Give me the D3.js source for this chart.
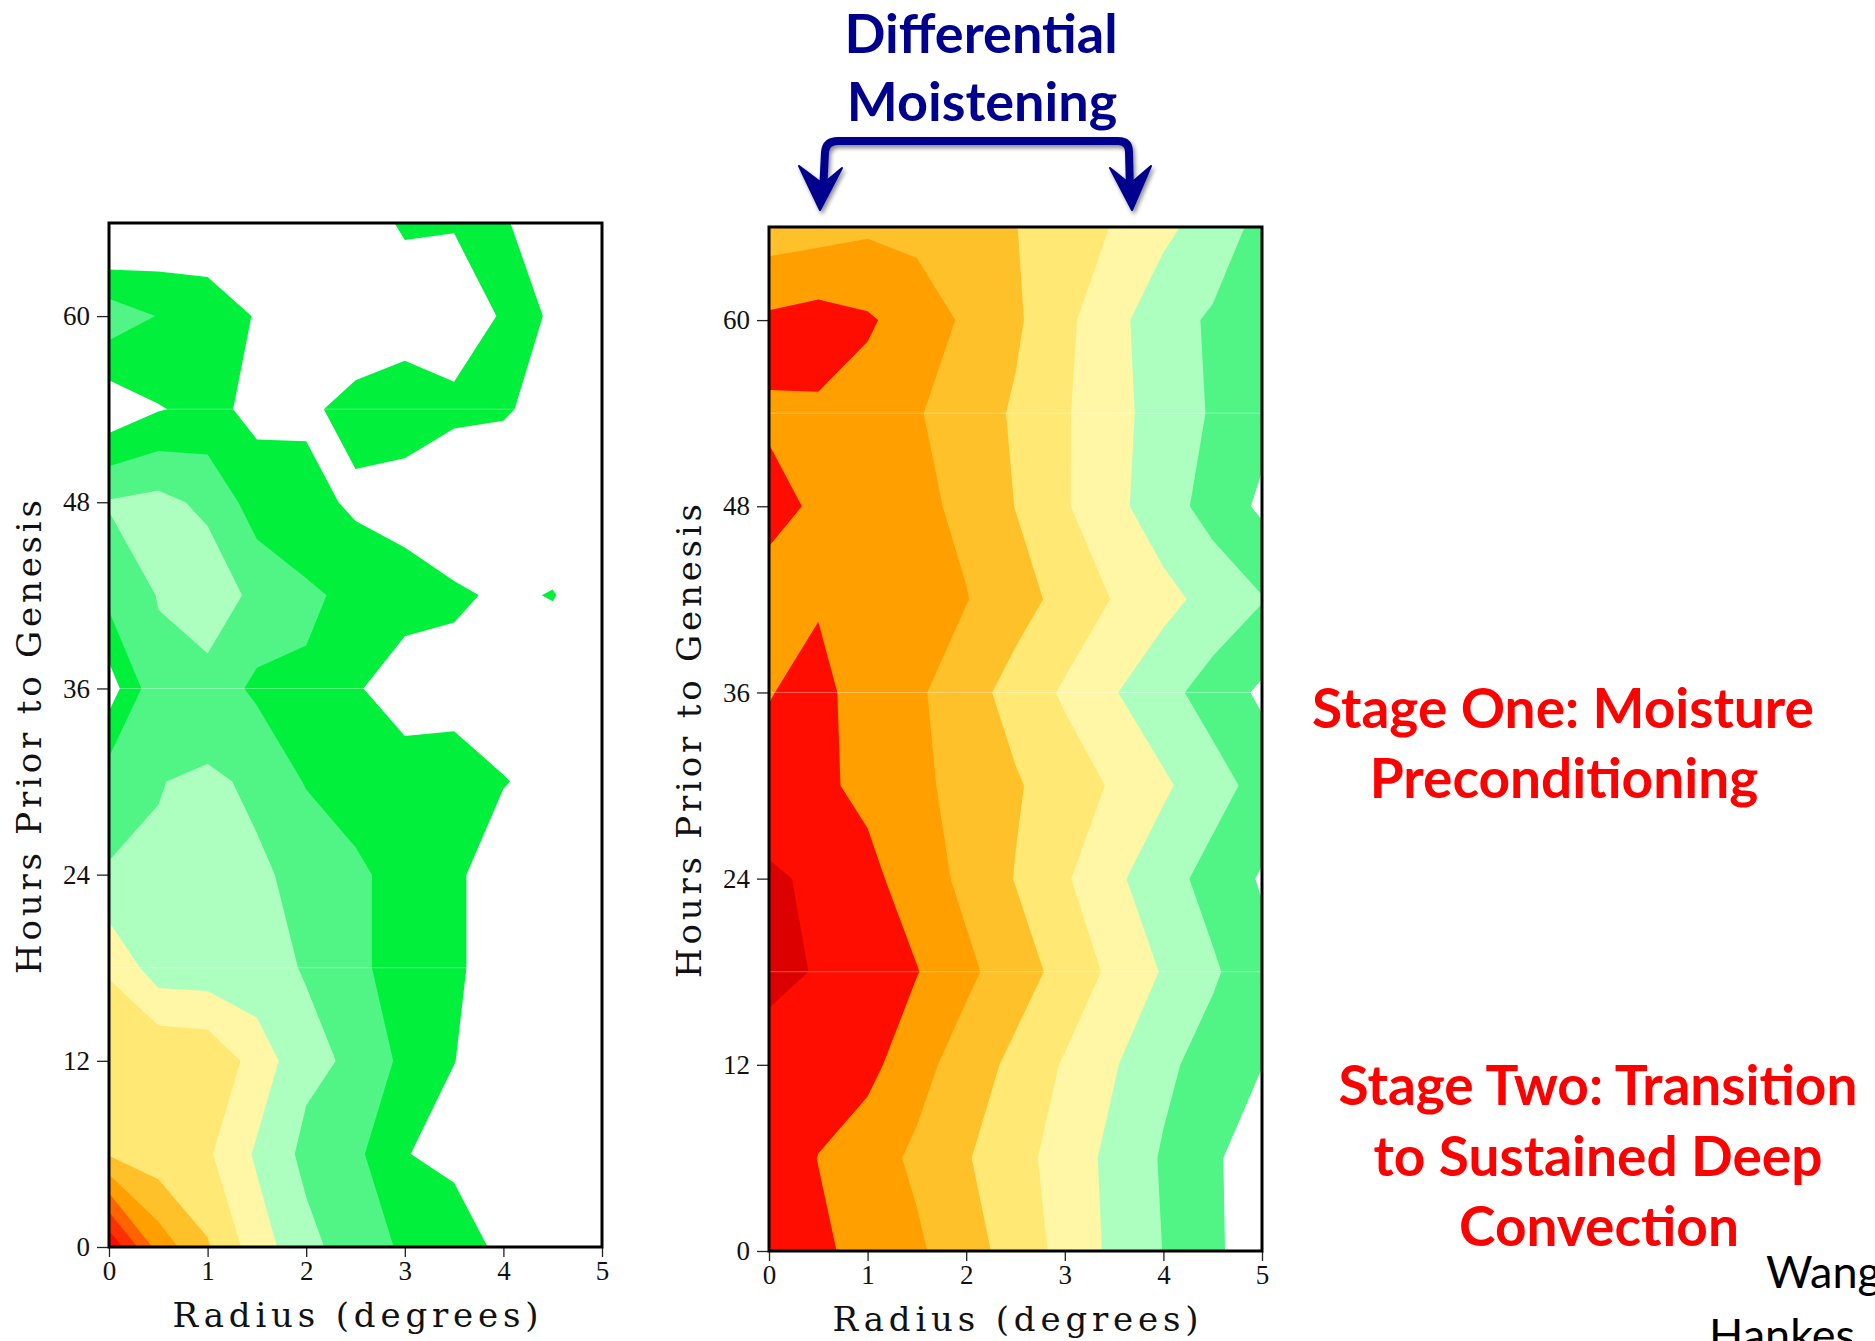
<!DOCTYPE html>
<html>
<head>
<meta charset="utf-8">
<script src="https://cdn.jsdelivr.net/npm/d3@7"></script>
<style>
  html, body { margin: 0; padding: 0; background: #ffffff; }
  svg { display: block; }
</style>
</head>
<body>
<svg id="fig" width="1875" height="1341"></svg>
<script>
// ---- Grid coordinates -------------------------------------------------
const radii = [0, 0.5, 1, 1.5, 2, 2.5, 3, 3.5, 4, 4.5, 5];          // degrees
const hours = [0, 6, 12, 18, 24, 30, 36, 42, 48, 54, 60, 66];        // hours prior to genesis

// ---- Left panel: composite field, one row per hour (0 h first) -------
const leftRows = [
  [99.5, 83.0, 75.5, 67.4, 61.5, 57.4, 54.3, 54.9, 47.7, 46.5, 46.0],
  [74.5, 72.0, 70.7, 64.3, 58.7, 56.1, 50.3, 47.8, 46.5, 46.5, 46.0],
  [73.5, 74.7, 74.0, 68.0, 61.2, 59.2, 53.7, 50.1, 47.0, 46.5, 46.5],
  [69.5, 62.3, 62.0, 61.5, 59.7, 55.5, 54.0, 50.8, 47.6, 47.0, 46.5],
  [60.4, 60.3, 61.5, 60.4, 59.3, 55.5, 54.0, 50.8, 47.6, 47.0, 46.5],
  [57.7, 59.9, 60.5, 59.5, 54.6, 53.8, 54.5, 52.0, 50.2, 48.7, 47.0],
  [47.5, 58.9, 57.9, 54.0, 54.4, 50.9, 45.3, 48.3, 47.5, 47.0, 46.5],
  [56.5, 60.2, 63.5, 58.5, 55.7, 54.0, 53.7, 50.7, 49.3, 50.2, 47.5],
  [60.4, 61.5, 58.8, 52.7, 51.9, 49.0, 46.5, 46.2, 46.5, 47.0, 46.5],
  [46.4, 49.7, 51.4, 48.7, 49.0, 51.8, 53.9, 51.0, 50.5, 48.3, 46.0],
  [58.0, 54.8, 54.0, 49.5, 46.5, 46.0, 46.4, 47.6, 50.4, 49.9, 46.5],
  [42.0, 44.8, 44.5, 46.5, 46.0, 47.0, 50.8, 50.3, 50.5, 47.0, 46.0]
];
const leftLevels = [50, 55, 60, 65, 70, 75, 80, 85, 90, 95];
const leftColors = ["#00f03c", "#50f585", "#adffbf", "#fff7a5", "#ffe873",
                    "#ffc12a", "#ffa000", "#ff6400", "#ff3000", "#ff0a00"];

// ---- Right panel: composite field, one row per hour (0 h first) ------
const rightRows = [
  [92.5, 91.0, 88.3, 85.8, 82.0, 78.0, 73.4, 68.9, 64.9, 61.0, 57.0],
  [93.0, 89.9, 87.1, 84.1, 80.4, 76.8, 72.8, 68.6, 64.5, 60.8, 57.1],
  [91.9, 92.0, 91.5, 86.7, 82.7, 78.7, 74.5, 70.4, 66.1, 62.9, 60.1],
  [97.0, 94.5, 92.4, 90.2, 86.1, 82.3, 78.3, 73.8, 69.6, 65.7, 61.7],
  [95.7, 94.2, 91.3, 87.6, 83.8, 79.8, 75.6, 71.0, 67.0, 63.2, 59.5],
  [92.3, 90.9, 88.9, 86.1, 83.3, 80.5, 77.6, 74.4, 70.8, 67.0, 63.2],
  [89.7, 92.2, 86.5, 85.8, 82.0, 78.2, 74.3, 70.3, 66.6, 62.9, 59.1],
  [89.2, 89.3, 88.5, 87.0, 85.2, 81.9, 78.5, 74.7, 71.5, 68.3, 65.3],
  [90.6, 89.7, 87.9, 86.2, 83.9, 79.9, 75.5, 71.3, 67.2, 63.1, 59.1],
  [89.7, 89.4, 88.0, 85.4, 82.5, 79.4, 75.5, 71.5, 67.9, 64.5, 61.5],
  [90.9, 92.0, 90.6, 87.8, 84.2, 80.8, 76.1, 71.7, 66.5, 64.5, 62.5],
  [82.3, 83.0, 84.2, 83.6, 82.3, 80.1, 77.8, 74.7, 71.3, 67.4, 63.7]
];
const rightLevels = [60, 65, 70, 75, 80, 85, 90, 95];
const rightColors = ["#50f585", "#adffbf", "#fff7a5", "#ffe873",
                     "#ffc12a", "#ffa000", "#ff0d00", "#dc0000"];

// ---- Axis ticks and annotation values --------------------------------
const hourTicks = [0, 12, 24, 36, 48, 60];
const radiusTicks = [0, 1, 2, 3, 4, 5];
const seamHours = [18, 36, 54];
const stageBoundaryHour = 16.9;

// ---- Layout ----------------------------------------------------------
const panels = [
  { key: "left",  rows: leftRows,  levels: leftLevels,  colors: leftColors,
    x0: 109, x1: 602, yBottom: 1247, yTop: 223, titleX: 41, titleBaseline: 1327 },
  { key: "right", rows: rightRows, levels: rightLevels, colors: rightColors,
    x0: 769, x1: 1262, yBottom: 1251, yTop: 227, titleX: 701, titleBaseline: 1331 }
];

const svg = d3.select("#fig");
const defs = svg.append("defs");

const shadow = defs.append("filter").attr("id", "soft-shadow")
  .attr("x", "-10%").attr("y", "-60%").attr("width", "120%").attr("height", "260%");
shadow.append("feDropShadow").attr("dx", 2).attr("dy", 3).attr("stdDeviation", 2.2)
  .attr("flood-color", "#000").attr("flood-opacity", 0.45);

const tickFont = "'Liberation Serif', 'Times New Roman', serif";
const titleFont = "'DejaVu Serif', 'Liberation Serif', serif";
const panelScales = {};

panels.forEach(p => {
  const x = d3.scaleLinear().domain([0, 5]).range([p.x0, p.x1]);
  const y = d3.scaleLinear().domain([0, 66]).range([p.yBottom, p.yTop]);
  panelScales[p.key] = { x, y };

  const nx = radii.length, ny = hours.length;
  const dr = radii[1] - radii[0], dh = hours[1] - hours[0];
  const values = p.rows.flat();

  // d3.contours puts sample (i, j) at (i + 0.5, j + 0.5) in grid space
  const toScreen = d3.geoTransform({
    point(cx, cy) {
      this.stream.point(x(radii[0] + (cx - 0.5) * dr), y(hours[0] + (cy - 0.5) * dh));
    }
  });
  const path = d3.geoPath(toScreen);
  const bands = d3.contours().size([nx, ny]).thresholds(p.levels)(values);

  const clipId = "clip-" + p.key;
  defs.append("clipPath").attr("id", clipId).append("rect")
    .attr("x", x(0)).attr("y", y(66)).attr("width", x(5) - x(0)).attr("height", y(0) - y(66));

  const g = svg.append("g").attr("class", "panel-" + p.key);
  const plot = g.append("g").attr("clip-path", `url(#${clipId})`);
  plot.append("rect").attr("x", x(0)).attr("y", y(66))
    .attr("width", x(5) - x(0)).attr("height", y(0) - y(66)).attr("fill", "#ffffff");

  plot.selectAll("path.band").data(bands).join("path")
    .attr("class", "band")
    .attr("d", path)
    .attr("fill", d => p.colors[p.levels.indexOf(d.value)]);

  // faint seams between the stacked raster tiles
  plot.selectAll("line.seam").data(seamHours).join("line")
    .attr("class", "seam")
    .attr("x1", x(0)).attr("x2", x(5))
    .attr("y1", d => y(d)).attr("y2", d => y(d))
    .attr("stroke", "#ffffff").attr("stroke-opacity", 0.35).attr("stroke-width", 1);

  // axes
  const yAxis = d3.axisLeft(y).tickValues(hourTicks).tickSize(12).tickPadding(7)
    .tickFormat(d3.format("d"));
  const xAxis = d3.axisBottom(x).tickValues(radiusTicks).tickSize(10).tickPadding(4)
    .tickFormat(d3.format("d"));

  const ya = g.append("g").attr("transform", `translate(${x(0)},0)`).call(yAxis);
  const xa = g.append("g").attr("transform", `translate(0,${y(0)})`).call(xAxis);
  [ya, xa].forEach(a => {
    a.select(".domain").remove();
    a.selectAll(".tick line").attr("stroke", "#222").attr("stroke-width", 1.3);
    a.selectAll(".tick text").attr("fill", "#111")
      .style("font-family", tickFont).style("font-size", "27px");
  });

  // frame
  g.append("rect").attr("x", x(0)).attr("y", y(66))
    .attr("width", x(5) - x(0)).attr("height", y(0) - y(66))
    .attr("fill", "none").attr("stroke", "#000").attr("stroke-width", 3);

  // axis titles
  g.append("text")
    .attr("x", (x(0) + x(5)) / 2).attr("y", p.titleBaseline)
    .attr("text-anchor", "middle")
    .attr("textLength", 366).attr("lengthAdjust", "spacing")
    .style("font-family", titleFont).style("font-size", "34px").attr("fill", "#111")
    .text("Radius (degrees)");

  const midY = (y(0) + y(66)) / 2 + 2;
  g.append("text")
    .attr("transform", `translate(${p.titleX},${midY}) rotate(-90)`)
    .attr("text-anchor", "middle")
    .attr("textLength", 474).attr("lengthAdjust", "spacing")
    .style("font-family", titleFont).style("font-size", "34px").attr("fill", "#111")
    .text("Hours Prior to Genesis");
});

// ---- Stage boundary: dashed line across both panels ------------------
const yStage = panelScales.left.y(stageBoundaryHour);
svg.append("line")
  .attr("x1", 116).attr("x2", 1692)
  .attr("y1", yStage).attr("y2", yStage)
  .attr("stroke", "#4f6228").attr("stroke-width", 8.5)
  .attr("stroke-dasharray", "36 25.6")
  .attr("filter", "url(#soft-shadow)");

// ---- "Differential Moistening" heading with bracket arrows -----------
const navy = "#00008f";
const head = svg.append("g").style("font-family", "Lato, 'Open Sans', sans-serif")
  .style("font-weight", 700).attr("fill", navy).attr("text-anchor", "middle");
head.append("text").attr("x", 981).attr("y", 53).style("font-size", "54px").text("Differential");
head.append("text").attr("x", 982).attr("y", 121).style("font-size", "54px").text("Moistening");

const bracket = svg.append("g").attr("filter", "url(#soft-shadow)");
bracket.append("path")
  .attr("d", "M 823,192 L 825,152 Q 826,141 838,141 L 1118,141 Q 1129,141 1129,152 L 1130,192")
  .attr("fill", "none").attr("stroke", navy).attr("stroke-width", 8).attr("stroke-linejoin", "round");
bracket.append("path")
  .attr("d", "M 820,210 L 799,166 L 823,184 L 842,168 Z")
  .attr("fill", navy).attr("stroke", navy).attr("stroke-width", 2).attr("stroke-linejoin", "round");
bracket.append("path")
  .attr("d", "M 1132,210 L 1110,168 L 1130,184 L 1151,166 Z")
  .attr("fill", navy).attr("stroke", navy).attr("stroke-width", 2).attr("stroke-linejoin", "round");

// ---- Stage descriptions ---------------------------------------------
const stages = svg.append("g").style("font-family", "Lato, 'Open Sans', sans-serif")
  .style("font-weight", 700).style("font-size", "55px").attr("fill", "#ff0000")
  .attr("text-anchor", "middle");
stages.append("text").attr("x", 1563).attr("y", 728).text("Stage One: Moisture");
stages.append("text").attr("x", 1564).attr("y", 798).text("Preconditioning");
stages.append("text").attr("x", 1598).attr("y", 1105).text("Stage Two: Transition");
stages.append("text").attr("x", 1598).attr("y", 1176).text("to Sustained Deep");
stages.append("text").attr("x", 1599).attr("y", 1246).text("Convection");

// ---- Citation (runs off the right and bottom edges) -----------------
const cite = svg.append("g").style("font-family", "Lato, 'Open Sans', sans-serif")
  .style("font-size", "45px").attr("fill", "#000");
cite.append("text").attr("x", 1766).attr("y", 1288).text("Wang");
cite.append("text").attr("x", 1709).attr("y", 1351).text("Hankes");
</script>
</body>
</html>
